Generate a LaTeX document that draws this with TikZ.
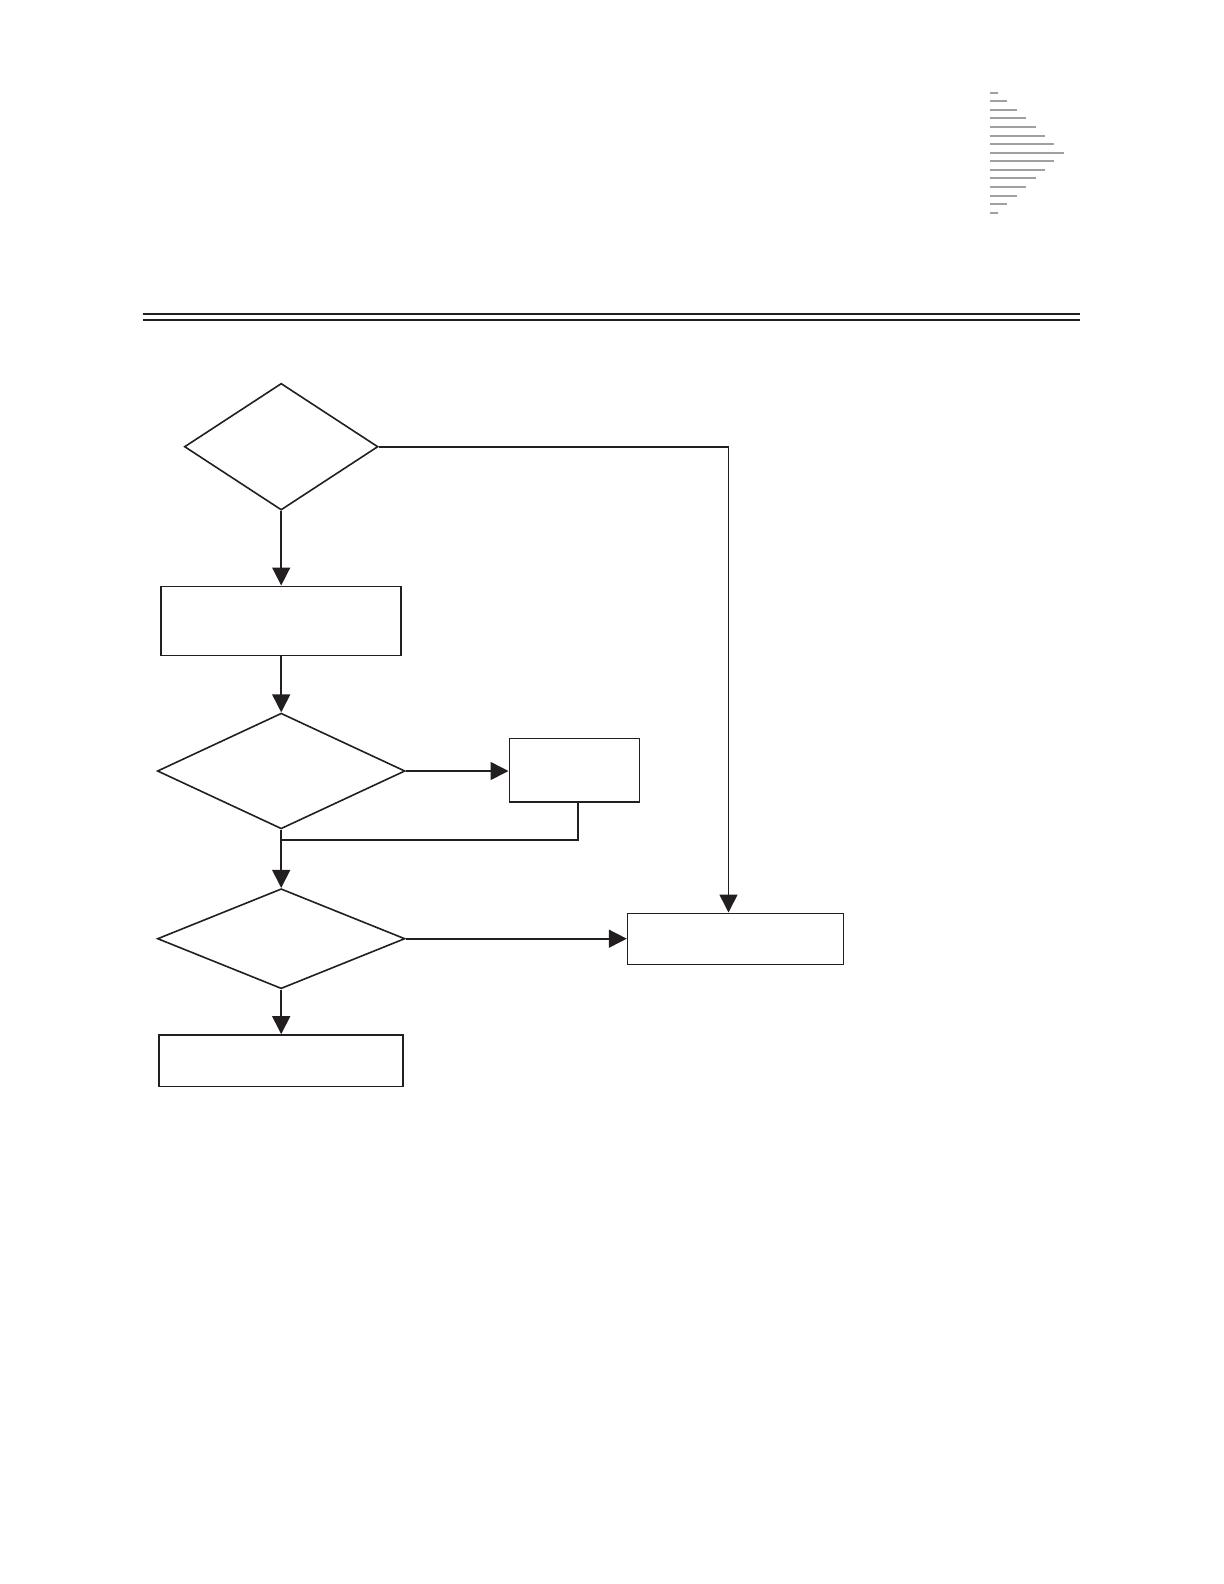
\documentclass[tikz,border=0pt]{standalone}
\usetikzlibrary{arrows.meta, positioning, shapes.geometric}
\definecolor{ink}{RGB}{35,31,32}
\definecolor{rulegray}{RGB}{160,160,160}

\begin{document}
\begin{tikzpicture}[x=0.5pt, y=-0.5pt,
    decision/.style={diamond, draw=ink, line width=0.8pt, inner sep=0pt},
    block/.style={rectangle, draw=ink, line width=0.8pt, inner sep=0pt},
    flow/.style={draw=ink, line width=0.8pt, -{Triangle[length=9pt, width=9pt]}}]
    \useasboundingbox (0,0) rectangle (1224,1584);

    % corner mark
    \foreach \w [count=\i from 0] in {8,17,27,36,46,55,64,74,64,55,46,36,27,17,8}
        \draw[rulegray, line width=1pt] (990,92.7+8.57*\i) -- ++(\w,0);

    % double rule
    \draw[ink, line width=1.15pt] (142.7,314) -- (1079.6,314);
    \draw[ink, line width=1.15pt] (142.7,319.7) -- (1079.6,319.7);

    \node[decision, minimum width=96.8pt, minimum height=63.35pt] (test1) at (281.2,446.7) {};
    \node[block, minimum width=120pt, minimum height=34.5pt] (task1) at (281.2,620.8) {};
    \node[decision, minimum width=123.85pt, minimum height=57.85pt] (test2) at (281.2,771) {};
    \node[block, minimum width=65pt, minimum height=31.7pt] (task2) at (574.3,770) {};
    \node[decision, minimum width=123.75pt, minimum height=50pt] (test3) at (281.2,938.7) {};
    \node[block, minimum width=107.9pt, minimum height=25.5pt] (exit) at (735.5,938.8) {};
    \node[block, minimum width=122pt, minimum height=25.85pt] (final) at (281.2,1060.8) {};

    \coordinate (bend) at (728.5,446.7);
    \coordinate (drop) at (577.7,801.7);
    \coordinate (merge) at (281.2,839.7);

    \draw[flow] (test1.south) -- (task1.north);
    \draw[flow] (task1.south) -- (test2.north);
    \draw[flow] (test2.east) -- (test2.east -| task2.west);
    \draw[ink, line width=1.2pt] (drop) |- (merge);
    \draw[flow] (test2.south) -- (test3.north);
    \draw[flow] (test3.east) -- (test3.east -| exit.west);
    \draw[flow] (test3.south) -- (final.north);
    \draw[flow] (test1.east) -- (bend) -- (bend |- exit.north);
\end{tikzpicture}
\end{document}
